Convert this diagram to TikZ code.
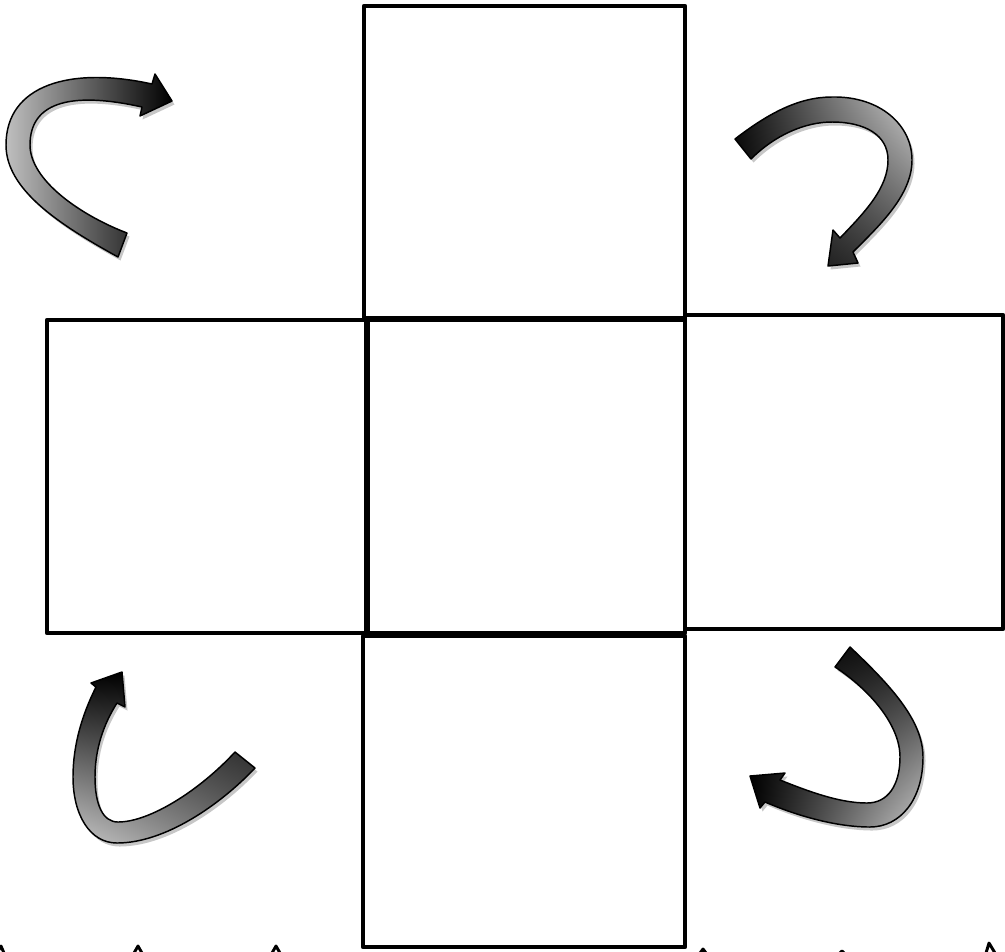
\documentclass[tikz,border=0pt]{standalone}
\usetikzlibrary{shadings}
\begin{document}
\begin{tikzpicture}[x=0.75pt,y=-0.75pt,
  face/.style={draw=black,line width=3.6pt,line join=round},
  arrowline/.style={draw=black,line width=1.1pt,line join=round},
  arrowshadow/.style={fill=black,opacity=0.22},
  tick/.style={draw=black,line width=2.2pt,line join=round,line cap=round}]
\useasboundingbox (0,0) rectangle (1005,951);
\fill[white] (0,0) rectangle (1005,951);
% arrow outlines
\def\ArrTL{(118,257) .. controls (60,225) and (6,190) .. (6,145)
  .. controls (6,85) and (70,66) .. (152,84)
  -- (155,74) -- (172,101) -- (140,116) -- (142,107)
  .. controls (75,92) and (30,100) .. (30,145)
  .. controls (30,180) and (80,215) .. (127,233) -- cycle}
\def\ArrTR{(735,139) .. controls (770,112) and (800,97) .. (832,97)
  .. controls (880,96) and (912,125) .. (912,160)
  .. controls (912,195) and (880,225) .. (853,252)
  -- (858,263) -- (828,266) -- (833,230) -- (840,238)
  .. controls (865,212) and (888,188) .. (888,160)
  .. controls (888,135) and (865,122) .. (832,122)
  .. controls (805,122) and (775,135) .. (751,159) -- cycle}
\def\ArrBL{(96,687) .. controls (82,715) and (73,745) .. (73,777)
  .. controls (73,815) and (90,843) .. (117,843)
  .. controls (165,843) and (220,805) .. (255,768)
  -- (235,752)
  .. controls (200,790) and (150,822) .. (118,822)
  .. controls (103,822) and (95,805) .. (95,777)
  .. controls (95,750) and (103,725) .. (117,703)
  -- (125,707) -- (122,672) -- (91,683) -- cycle}
\def\ArrBR{(850,647) .. controls (890,685) and (923,720) .. (923,757)
  .. controls (923,800) and (900,827) .. (870,827)
  .. controls (835,827) and (795,815) .. (765,802)
  -- (760,808) -- (750,776) -- (785,773) -- (780,780)
  .. controls (810,792) and (840,803) .. (867,803)
  .. controls (888,803) and (900,785) .. (900,757)
  .. controls (900,725) and (870,690) .. (835,667) -- cycle}
% shadows
\begin{scope}[shift={(2.5,3.5)}]
  \path[arrowshadow] \ArrTL;
  \path[arrowshadow] \ArrTR;
  \path[arrowshadow] \ArrBL;
  \path[arrowshadow] \ArrBR;
\end{scope}
% shaded arrows
\shade[left color=black!25,right color=black] \ArrTL;
\path[arrowline] \ArrTL;
\shade[upper left=black!95,lower left=black,upper right=black!20,lower right=black!75] \ArrTR;
\path[arrowline] \ArrTR;
\shade[upper left=black,upper right=black,lower left=black!22,lower right=black!60] \ArrBL;
\path[arrowline] \ArrBL;
\shade[upper left=black,upper right=black!90,lower left=black,lower right=black!22] \ArrBR;
\path[arrowline] \ArrBR;
% cube net faces
\draw[face] (364,6) rectangle (685,318);
\draw[face] (47,320) rectangle (366,633);
\draw[face] (368,320) rectangle (685,633);
\draw[face] (685,315) rectangle (1003,629);
\draw[face] (363,636) rectangle (685,947);
% cut-off marks at the bottom edge
\draw[tick] (-3,953) -- (1,946) -- (4,953);
\draw[tick] (134,953) -- (138,946) -- (142,953);
\draw[tick] (272,953) -- (276,946) -- (280,953);
\draw[tick] (700,953) -- (703,949) -- (706,953);
\draw[tick] (840,953) -- (842,951) -- (844,953);
\draw[tick] (986,953) -- (989,943) -- (995,953);
\end{tikzpicture}
\end{document}
